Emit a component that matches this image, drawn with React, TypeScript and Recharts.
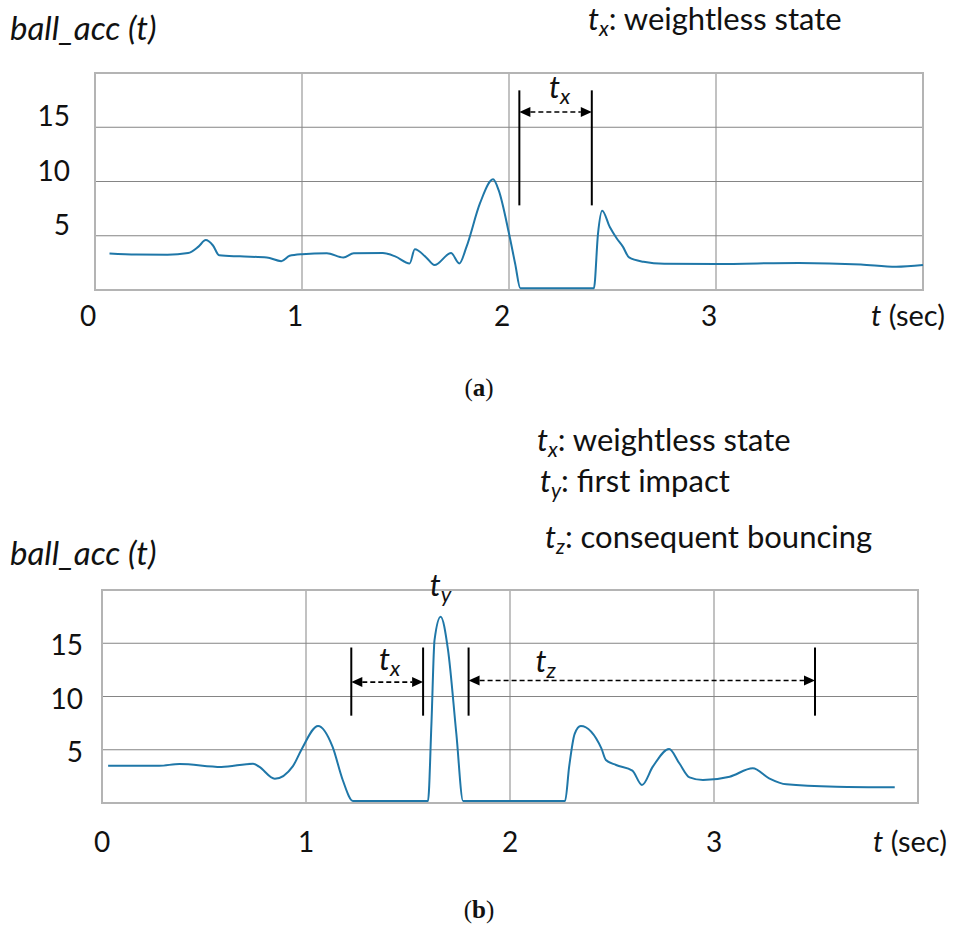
import React from 'react';
import {
  LineChart,
  Line,
  XAxis,
  YAxis,
  CartesianGrid,
  ReferenceLine,
  ReferenceArea,
  ReferenceDot,
} from 'recharts';

// (a) one throw: time in seconds, ball acceleration
const tA = [0.07, 0.2, 0.35, 0.45, 0.5, 0.535, 0.57, 0.6, 0.7, 0.83, 0.9, 0.94, 1.0, 1.12, 1.2, 1.25, 1.39, 1.45, 1.52, 1.545, 1.6, 1.64, 1.72, 1.76, 1.795, 1.86, 1.923, 1.95, 2.0, 2.03, 2.055, 2.2, 2.41, 2.43, 2.45, 2.487, 2.52, 2.55, 2.58, 2.65, 2.75, 3.0, 3.4, 3.7, 3.87, 4.0];
const accA = [3.37, 3.27, 3.25, 3.4, 4.0, 4.6, 4.1, 3.2, 3.1, 3.0, 2.66, 3.15, 3.3, 3.39, 3.0, 3.39, 3.4, 3.1, 2.45, 3.75, 3.0, 2.3, 3.4, 2.45, 4.0, 8.0, 10.2, 9.2, 5.2, 2.4, 0.15, 0.15, 0.15, 5.2, 7.3, 5.8, 4.77, 4.0, 3.0, 2.6, 2.42, 2.4, 2.5, 2.35, 2.14, 2.3];

// (b) throw with impact and bouncing
const tB = [0.03, 0.28, 0.38, 0.585, 0.74, 0.77, 0.847, 0.936, 0.977, 1.059, 1.13, 1.18, 1.23, 1.598, 1.615, 1.63, 1.66, 1.696, 1.737, 1.77, 2.27, 2.29, 2.317, 2.347, 2.448, 2.47, 2.52, 2.6, 2.647, 2.7, 2.78, 2.83, 2.88, 2.946, 3.077, 3.19, 3.27, 3.355, 3.6, 3.886];
const accB = [3.5, 3.5, 3.66, 3.38, 3.69, 3.41, 2.28, 3.47, 4.98, 7.23, 5.29, 2.16, 0.19, 0.19, 7.5, 15.3, 17.5, 14.4, 6.5, 0.19, 0.19, 3.41, 6.5, 7.23, 5.13, 4.04, 3.57, 3.04, 1.69, 3.41, 5.07, 3.73, 2.41, 2.16, 2.47, 3.26, 2.32, 1.75, 1.53, 1.47];

const xTicks = [0, 1, 2, 3, 4];
const yTicks = [0, 5, 10, 15, 20];

// annotation marks (t in sec, acc units)
const barsA = [2.05, 2.4];
const barSpanA = [7.8, 18.4];
const barsB = [1.222, 1.574, 1.797, 3.495];
const barSpanB = [8.2, 14.6];

const dataA = tA.map((t, i) => ({ t, acc: accA[i] }));
const dataB = tB.map((t, i) => ({ t, acc: accB[i] }));

const FONT = 'Lato, "Open Sans", sans-serif';
const SERIF = '"Liberation Serif", serif';
const BLUE = '#1f77a8';

const makeYTick = (dy: number) => (props: any) => {
  const { x, y, payload } = props;
  if (payload.value === 0 || payload.value === 20) return <g />;
  return (
    <text x={x} y={y + dy} textAnchor="end" fontFamily={FONT} fontSize={28} fill="#111">
      {payload.value}
    </text>
  );
};

const makeXTick = (dx: number, dy: number, lastDx: number) => (props: any) => {
  const { x, y, payload } = props;
  if (payload.value === 4) {
    return (
      <text x={x + lastDx} y={y + dy} textAnchor="middle" fontFamily={FONT} fontSize={29} fill="#111">
        <tspan fontStyle="italic">t</tspan> (sec)
      </text>
    );
  }
  return (
    <text x={x + dx} y={y + dy} textAnchor="middle" fontFamily={FONT} fontSize={28} fill="#111">
      {payload.value}
    </text>
  );
};

const arrowShape = (props: any) => {
  const { x1, y1, x2 } = props;
  const h = 11;
  const w = 5;
  return (
    <g>
      <line x1={x1 + h} y1={y1} x2={x2 - h} y2={y1} stroke="#000" strokeWidth={1.6} strokeDasharray="5 3" />
      <polygon points={`${x1},${y1} ${x1 + h},${y1 - w} ${x1 + h},${y1 + w}`} fill="#000" />
      <polygon points={`${x2},${y1} ${x2 - h},${y1 - w} ${x2 - h},${y1 + w}`} fill="#000" />
    </g>
  );
};

const subLabel = (sub: string) => (props: any) => {
  const { cx, cy } = props;
  return (
    <text x={cx} y={cy} textAnchor="middle" fontFamily={FONT} fontSize={31} fontStyle="italic" fill="#111">
      t
      <tspan fontSize={22} dy={6}>
        {sub}
      </tspan>
    </text>
  );
};

const Legend = ({ x, y, sub, text }: { x: number; y: number; sub: string; text: string }) => (
  <text x={x} y={y} fontFamily={FONT} fontSize={31} fill="#111">
    <tspan fontStyle="italic">t</tspan>
    <tspan fontStyle="italic" fontSize={21} dy={6}>
      {sub}
    </tspan>
    <tspan dy={-6}>{text}</tspan>
  </text>
);

export default function App() {
  return (
    <div style={{ position: 'absolute', left: 0, top: 0, width: 954, height: 925, background: '#fff' }}>
      <div style={{ position: 'absolute', left: 0, top: 0 }}>
        <LineChart width={954} height={340} data={dataA} margin={{ top: 73, right: 31, bottom: 0, left: 0 }}>
          <CartesianGrid stroke="#858585" strokeWidth={1} />
          <XAxis
            dataKey="t"
            type="number"
            domain={[0, 4]}
            ticks={xTicks}
            axisLine={false}
            tickLine={false}
            tickSize={0}
            tickMargin={0}
            height={50}
            tick={makeXTick(-7, 36, -15)}
          />
          <YAxis
            type="number"
            domain={[0, 20]}
            ticks={yTicks}
            axisLine={false}
            tickLine={false}
            tickSize={0}
            tickMargin={25}
            width={95}
            tick={makeYTick(-1)}
          />
          <ReferenceArea x1={0} x2={4} y1={0} y2={20} fill="none" stroke="#b4b4b4" strokeWidth={2} />
          <Line type="monotone" dataKey="acc" stroke={BLUE} strokeWidth={2} dot={false} isAnimationActive={false} />
          {barsA.map((b) => (
            <ReferenceLine
              key={b}
              segment={[{ x: b, y: barSpanA[0] }, { x: b, y: barSpanA[1] }]}
              stroke="#000"
              strokeWidth={2}
            />
          ))}
          <ReferenceLine segment={[{ x: barsA[0], y: 16.4 }, { x: barsA[1], y: 16.4 }]} shape={arrowShape} />
          <ReferenceDot x={2.245} y={17.7} r={0} shape={subLabel('x')} />
        </LineChart>
      </div>

      <div style={{ position: 'absolute', left: 0, top: 540 }}>
        <LineChart width={954} height={340} data={dataB} margin={{ top: 50, right: 36, bottom: 0, left: 0 }}>
          <CartesianGrid stroke="#858585" strokeWidth={1} />
          <XAxis
            dataKey="t"
            type="number"
            domain={[0, 4]}
            ticks={xTicks}
            axisLine={false}
            tickLine={false}
            tickSize={0}
            tickMargin={0}
            height={77}
            tick={makeXTick(0, 49, -8)}
          />
          <YAxis
            type="number"
            domain={[0, 20]}
            ticks={yTicks}
            axisLine={false}
            tickLine={false}
            tickSize={0}
            tickMargin={19}
            width={102}
            tick={makeYTick(12)}
          />
          <ReferenceArea x1={0} x2={4} y1={0} y2={20} fill="none" stroke="#b4b4b4" strokeWidth={2} />
          <Line type="monotone" dataKey="acc" stroke={BLUE} strokeWidth={2} dot={false} isAnimationActive={false} />
          {barsB.map((b) => (
            <ReferenceLine
              key={b}
              segment={[{ x: b, y: barSpanB[0] }, { x: b, y: barSpanB[1] }]}
              stroke="#000"
              strokeWidth={2}
            />
          ))}
          <ReferenceLine segment={[{ x: barsB[0], y: 11.35 }, { x: barsB[1], y: 11.35 }]} shape={arrowShape} />
          <ReferenceLine segment={[{ x: barsB[2], y: 11.5 }, { x: barsB[3], y: 11.5 }]} shape={arrowShape} />
          <ReferenceDot x={1.41} y={12.5} r={0} shape={subLabel('x')} />
          <ReferenceDot x={2.175} y={12.3} r={0} shape={subLabel('z')} />
          <ReferenceDot x={1.66} y={19.4} r={0} shape={subLabel('y')} />
        </LineChart>
      </div>

      <svg
        width={954}
        height={925}
        style={{ position: 'absolute', left: 0, top: 0, pointerEvents: 'none' }}
      >
        <text x={10} y={40} fontFamily={FONT} fontSize={33} fontStyle="italic" fill="#111">
          ball_acc (t)
        </text>
        <Legend x={588} y={30} sub="x" text=": weightless state" />
        <text x={479} y={396} textAnchor="middle" fontFamily={SERIF} fontSize={25} fill="#111">
          (<tspan fontWeight="bold">a</tspan>)
        </text>

        <Legend x={537} y={451} sub="x" text=": weightless state" />
        <Legend x={540} y={492} sub="y" text=": first impact" />
        <Legend x={545} y={548} sub="z" text=": consequent bouncing" />
        <text x={10} y={565} fontFamily={FONT} fontSize={33} fontStyle="italic" fill="#111">
          ball_acc (t)
        </text>
        <text x={479} y={918} textAnchor="middle" fontFamily={SERIF} fontSize={25} fill="#111">
          (<tspan fontWeight="bold">b</tspan>)
        </text>
      </svg>
    </div>
  );
}
